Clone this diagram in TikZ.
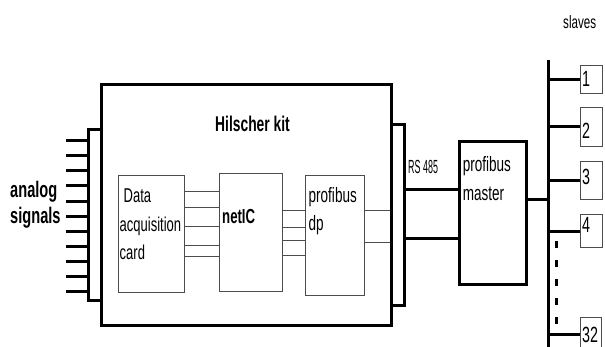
\documentclass[tikz,border=0pt]{standalone}
\usepackage{fontspec}
\setmainfont{Liberation Sans}[FakeStretch=0.65]
\newfontfamily\narrowfont{Liberation Sans}[FakeStretch=0.47]
\usetikzlibrary{positioning}

\begin{document}
\begin{tikzpicture}[x=1pt, y=-1pt,
  thickbox/.style={draw, line width=3pt, fill=white, inner sep=0pt},
  thinbox/.style={draw=black!70, line width=1pt, fill=white, inner sep=0pt},
  thickline/.style={line width=3pt},
  thinline/.style={draw=black!70, line width=1pt},
  txt/.style={inner sep=0pt, align=left},
]
  \useasboundingbox (0,0) rectangle (605,347);

  % kit with its two connector strips
  \node[thickbox, minimum width=290pt, minimum height=240pt] (kit) at (246.7,205) {};
  \node[thickbox, minimum width=13.4pt, minimum height=171pt] (lstrip) at (95,215.5) {};
  \node[thickbox, minimum width=13.3pt, minimum height=180.7pt] (rstrip) at (398.3,215.3) {};
  \node[txt, anchor=base, font=\fontsize{21.3}{24}\selectfont\bfseries] (kittitle) at (252.5,131.7) {Hilscher kit};

  % analog inputs
  \foreach \k in {0,...,10}
    \draw[thickline] (lstrip.west |- 0,{140.7+15.1*\k}) -- ++(-21.3,0);
  \node[txt, anchor=north west, font=\fontsize{22.5}{26.7}\selectfont\bfseries] (analog) at (10,180.5) {analog\\signals};

  % boxes inside the kit
  \node[thinbox, minimum width=66pt, minimum height=117pt] (daq) at (151,234.5) {};
  \node[thinbox, minimum width=62.7pt, minimum height=118.4pt] (netic) at (251.3,232.5) {};
  \node[thinbox, minimum width=59.3pt, minimum height=120pt] (dp) at (335.3,235.7) {};
  \node[txt, anchor=north west, font=\fontsize{20}{28.3}\selectfont] (daqtext) at (119.5,188.9) {\hspace{4pt}Data\\acquisition\\card};
  \node[txt, anchor=base west, font=\fontsize{20.3}{22}\selectfont\bfseries] (netictext) at (222,223.3) {netIC};
  \node[txt, anchor=north west, font=\fontsize{20.8}{28}\selectfont] (dptext) at (308.5,187.7) {profibus\\dp};

  \foreach \y in {191.7,208,226.2,245.3,256.7}
    \draw[thinline] (daq.east |- 0,\y) -- (netic.west |- 0,\y);
  \foreach \y in {211,227.3,240.7,256}
    \draw[thinline] (netic.east |- 0,\y) -- (dp.west |- 0,\y);
  \foreach \y in {211,242.3}
    \draw[thinline] (dp.east |- 0,\y) -- (rstrip.west |- 0,\y);

  % RS 485 to master
  \node[txt, anchor=base west, font=\fontsize{19}{20}\narrowfont] (rs) at (408,174) {RS 485};
  \node[thickbox, minimum width=66.7pt, minimum height=143.3pt] (master) at (492.7,213.3) {};
  \node[txt, anchor=north west, font=\fontsize{20.8}{28.3}\selectfont] (mastertext) at (462.7,156.7) {profibus\\master};
  \foreach \y in {190,238.3}
    \draw[thickline] (rstrip.east |- 0,\y) -- (master.west |- 0,\y);

  % bus and slaves
  \coordinate (bustop) at (548,60);
  \coordinate (busbot) at (548,350);
  \draw[thickline] (bustop) -- (busbot);
  \draw[thickline] (master.east |- 0,199.3) -- (bustop |- 0,199.3);
  \node[txt, anchor=base west, font=\fontsize{17.9}{20}\selectfont] (slaves) at (563,28.3) {slaves};

  \node[thinbox, minimum width=22pt, minimum height=28.3pt] (s1) at (591,79.2) {};
  \node[thinbox, minimum width=22pt, minimum height=39.4pt] (s2) at (591,127) {};
  \node[thinbox, minimum width=22pt, minimum height=38.3pt] (s3) at (591,180.8) {};
  \node[thinbox, minimum width=22pt, minimum height=33pt] (s4) at (591,231.5) {};
  \node[thinbox, minimum width=21.3pt, minimum height=32pt] (s32) at (591.3,334) {};
  \foreach \s/\n/\b in {s1/1/87, s2/2/139, s3/3/185, s4/4/233, s32/32/342} {
    \draw[thickline] (\s.west -| bustop) -- (\s.west);
    \node[txt, anchor=base west, font=\fontsize{22}{24}\selectfont] (\s num) at (582,\b) {\n};
  }
  % dots between slave 4 and slave 32
  \foreach \d in {241,260,279,298,317}
    \fill (554.5,\d) rectangle (557.5,{\d+7});
\end{tikzpicture}
\end{document}
